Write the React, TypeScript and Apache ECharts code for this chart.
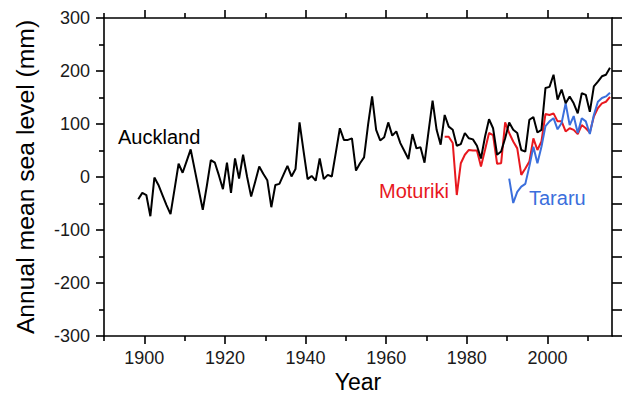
import React, { useEffect, useRef } from "react";
import * as echarts from "echarts";

// Annual mean sea level (mm), one value per year
const aucklandStartYear = 1898;
const aucklandValues = [
  -42, -30,
  -34, -74, -1, -15, -34, -53, -70, -23, 25, 8,
  30, 52, 14, -24, -62, -17, 32, 27, 3, -23,
  27, -30, 35, -3, 42, 0, -37, -9, 20, 6,
  -6, -57, -15, -13, 4, 21, 1, 15, 103, 49,
  -4, 2, -7, 35, -4, 4, 1, 46, 92, 70,
  70, 73, 12, 26, 37, 99, 152, 89, 69, 75,
  103, 78, 86, 64, 49, 34, 81, 54, 56, 27,
  86, 144, 89, 61, 117, 95, 89, 59, 62, 83,
  73, 71, 59, 35, 76, 109, 92, 42, 48, 73,
  103, 89, 83, 51, 48, 108, 113, 84, 89, 168,
  170, 193, 146, 165, 139, 152, 139, 120, 158, 155,
  123, 171, 180, 190, 193, 206,
];

const moturikiStartYear = 1974;
const moturikiValues = [
  76, 76, 64, -34, 26, 42,
  51, 50, 50, 20, 51, 83, 79, 25, 26, 103,
  83, 67, 54, 4, 16, 29, 73, 51, 67, 119,
  117, 120, 105, 105, 86, 92, 89, 81, 98, 92,
  84, 114, 130, 139, 142, 151,
];

const tararuStartYear = 1990;
const tararuValues = [
  -3, -49, -28, -18, -13, 20, 57, 26, 57, 96,
  105, 111, 90, 102, 139, 98, 115, 83, 111, 105,
  81, 117, 142, 149, 152, 159,
];

const xMajorTicks = [1900, 1920, 1940, 1960, 1980, 2000];
const xMinorTicks = [1890, 1910, 1930, 1950, 1970, 1990, 2010];
const xMin = 1890;
const xMax = 2016;
const yMin = -300;
const yMax = 300;
const yInterval = 100;

const FONT = '"Liberation Sans", Arial, Helvetica, sans-serif';

function toPoints(start: number, values: number[]) {
  // annual means plotted at mid-year
  return values.map((v, i) => [start + i + 0.5, v]);
}

export default function App() {
  const ref = useRef<HTMLDivElement>(null);

  useEffect(() => {
    if (!ref.current) return;
    const chart = echarts.init(ref.current, null, { renderer: "svg" });

    const axisLineStyle = { color: "#000", width: 1.6 };
    const tickStyle = { color: "#000", width: 1.6 };

    const xAxisBase = {
      type: "value" as const,
      min: xMin,
      max: xMax,
      splitLine: { show: false },
      axisLine: { show: false, onZero: false },
    };

    const option: any = {
      animation: false,
      backgroundColor: "#fff",
      grid: { left: 104, right: 15, top: 18, bottom: 61, containLabel: false },
      xAxis: [
        {
          ...xAxisBase,
          position: "bottom",
          axisLine: { show: true, onZero: false, lineStyle: axisLineStyle },
          axisTick: { show: true, customValues: xMajorTicks, length: 8, lineStyle: tickStyle },
          axisLabel: {
            show: true,
            customValues: xMajorTicks,
            formatter: (v: number) => String(v),
            color: "#1a1a1a",
            fontSize: 18,
            fontFamily: FONT,
            margin: 13,
          },
        },
        {
          ...xAxisBase,
          position: "bottom",
          axisTick: { show: true, customValues: xMinorTicks, length: 5, lineStyle: tickStyle },
          axisLabel: { show: false },
        },
        {
          ...xAxisBase,
          position: "top",
          axisLine: { show: true, onZero: false, lineStyle: axisLineStyle },
          axisTick: { show: true, customValues: xMajorTicks, length: 8, lineStyle: tickStyle },
          axisLabel: { show: false },
        },
        {
          ...xAxisBase,
          position: "top",
          axisTick: { show: true, customValues: xMinorTicks, length: 5, lineStyle: tickStyle },
          axisLabel: { show: false },
        },
      ],
      yAxis: [
        {
          type: "value",
          position: "left",
          min: yMin,
          max: yMax,
          interval: yInterval,
          splitLine: { show: false },
          axisLine: { show: true, onZero: false, lineStyle: axisLineStyle },
          axisTick: { show: true, length: 8, lineStyle: tickStyle },
          minorTick: { show: true, splitNumber: 2, length: 5, lineStyle: tickStyle },
          minorSplitLine: { show: false },
          axisLabel: { color: "#1a1a1a", fontSize: 18, fontFamily: FONT, margin: 14 },
        },
        {
          type: "value",
          position: "right",
          min: yMin,
          max: yMax,
          interval: yInterval,
          splitLine: { show: false },
          axisLine: { show: true, onZero: false, lineStyle: axisLineStyle },
          axisTick: { show: true, length: 10, lineStyle: tickStyle },
          minorTick: { show: true, splitNumber: 2, length: 10, lineStyle: tickStyle },
          minorSplitLine: { show: false },
          axisLabel: { show: false },
        },
      ],
      series: [
        {
          name: "Auckland",
          type: "line",
          xAxisIndex: 0,
          yAxisIndex: 0,
          data: toPoints(aucklandStartYear, aucklandValues),
          showSymbol: false,
          symbol: "none",
          lineStyle: { color: "#000", width: 2 },
          z: 3,
        },
        {
          name: "Moturiki",
          type: "line",
          xAxisIndex: 0,
          yAxisIndex: 0,
          data: toPoints(moturikiStartYear, moturikiValues),
          showSymbol: false,
          symbol: "none",
          lineStyle: { color: "#e8181e", width: 2 },
          z: 2,
        },
        {
          name: "Tararu",
          type: "line",
          xAxisIndex: 0,
          yAxisIndex: 0,
          data: toPoints(tararuStartYear, tararuValues),
          showSymbol: false,
          symbol: "none",
          lineStyle: { color: "#3b6fdc", width: 2 },
          z: 2,
        },
      ],
      graphic: [
        {
          type: "text",
          left: 118,
          top: 127,
          style: { text: "Auckland", fill: "#000", fontSize: 20, fontFamily: FONT },
        },
        {
          type: "text",
          left: 379,
          top: 181,
          style: { text: "Moturiki", fill: "#e8181e", fontSize: 20, fontFamily: FONT },
        },
        {
          type: "text",
          left: 529,
          top: 188,
          style: { text: "Tararu", fill: "#3b6fdc", fontSize: 20, fontFamily: FONT },
        },
        {
          type: "text",
          x: 358,
          y: 382,
          style: {
            text: "Year",
            fill: "#000",
            fontSize: 23,
            fontFamily: FONT,
            align: "center",
            verticalAlign: "middle",
          },
        },
        {
          type: "text",
          x: 25,
          y: 177,
          rotation: Math.PI / 2,
          style: {
            text: "Annual mean sea level (mm)",
            fill: "#000",
            fontSize: 24.7,
            fontFamily: FONT,
            align: "center",
            verticalAlign: "middle",
          },
        },
      ],
    };

    chart.setOption(option);
    return () => chart.dispose();
  }, []);

  return <div ref={ref} style={{ width: 627, height: 397, position: "absolute", left: 0, top: 0 }} />;
}
